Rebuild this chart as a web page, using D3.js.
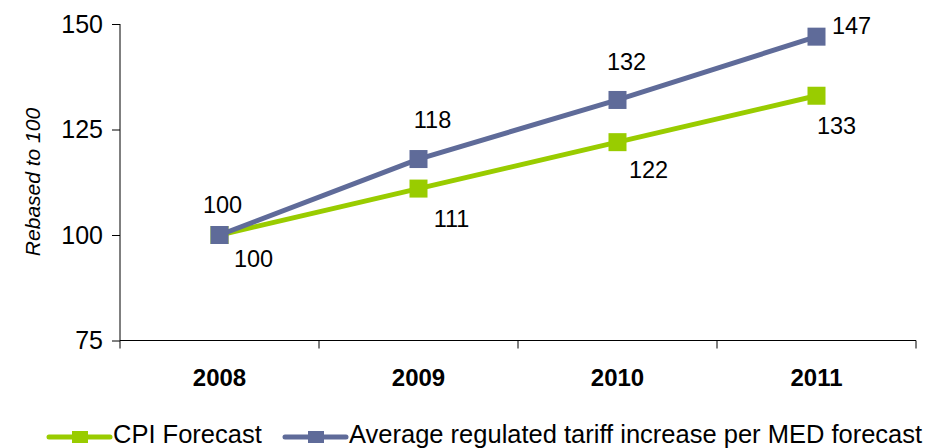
<!DOCTYPE html>
<html>
<head>
<meta charset="utf-8">
<script src="https://cdn.jsdelivr.net/npm/d3@7/dist/d3.min.js"></script>
<style>
  html, body { margin: 0; padding: 0; background: #fff; }
  svg { display: block; font-family: "Liberation Sans", Arial, sans-serif; }
</style>
</head>
<body>
<svg id="chart" width="944" height="448"></svg>
<script>
// Index values, rebased so that 2008 = 100
const years = ["2008", "2009", "2010", "2011"];
const cpiForecast = [100, 111, 122, 133];
const tariffForecast = [100, 118, 132, 147];
const yTicks = [75, 100, 125, 150];
const seriesNames = ["CPI Forecast", "Average regulated tariff increase per MED forecast"];

const colors = { cpi: "#99cc00", tariff: "#5f6b99" };

const svg = d3.select("#chart");
const plot = { left: 120, right: 916, top: 24, bottom: 340.5 };

const x = d3.scaleBand().domain(years).range([plot.left, plot.right]).paddingInner(0).paddingOuter(0);
const y = d3.scaleLinear().domain([75, 150]).range([plot.bottom, plot.top]);
const cx = d => x(d) + x.bandwidth() / 2;

// Y axis
const yAxis = svg.append("g")
  .attr("transform", `translate(${plot.left},0)`)
  .call(d3.axisLeft(y).tickValues(yTicks).tickSize(8).tickPadding(9));
yAxis.selectAll("text").attr("font-size", 25).attr("fill", "#000");
yAxis.selectAll("line, path").attr("stroke", "#000");
yAxis.select(".domain").attr("d", `M0,${plot.top}V${plot.bottom}`);

// X axis with ticks between categories
const xAxis = svg.append("g").attr("transform", `translate(0,${plot.bottom})`);
xAxis.append("line")
  .attr("x1", plot.left).attr("x2", plot.right)
  .attr("stroke", "#000");
const boundaries = years.map(d => x(d)).concat([x(years[years.length - 1]) + x.bandwidth()]);
xAxis.selectAll("line.tick").data(boundaries).join("line")
  .attr("class", "tick")
  .attr("x1", d => d).attr("x2", d => d)
  .attr("y1", 0).attr("y2", 8)
  .attr("stroke", "#000");
xAxis.selectAll("text").data(years).join("text")
  .attr("x", d => cx(d))
  .attr("y", 45)
  .attr("text-anchor", "middle")
  .attr("font-size", 24)
  .attr("font-weight", "bold")
  .text(d => d);

// Y axis title
svg.append("text")
  .attr("transform", `translate(40,182) rotate(-90)`)
  .attr("text-anchor", "middle")
  .attr("font-size", 21)
  .attr("font-style", "italic")
  .text("Rebased to 100");

const line = d3.line().x((d, i) => cx(years[i])).y(d => y(d));

function drawSeries(values, color, labelOffsets) {
  const g = svg.append("g");
  g.append("path")
    .datum(values)
    .attr("d", line)
    .attr("fill", "none")
    .attr("stroke", color)
    .attr("stroke-width", 5)
    .attr("stroke-linejoin", "round");
  const m = 18;
  g.selectAll("rect").data(values).join("rect")
    .attr("x", (d, i) => cx(years[i]) - m / 2)
    .attr("y", d => y(d) - m / 2)
    .attr("width", m).attr("height", m)
    .attr("fill", color);
  g.selectAll("text").data(values).join("text")
    .attr("x", (d, i) => cx(years[i]) + labelOffsets[i][0])
    .attr("y", (d, i) => y(d) + labelOffsets[i][1])
    .attr("text-anchor", "middle")
    .attr("dominant-baseline", "central")
    .attr("font-size", 23.5)
    .text(d => d);
}

drawSeries(cpiForecast, colors.cpi, [[34, 24], [33, 30], [31, 28], [20, 30]]);
drawSeries(tariffForecast, colors.tariff, [[3, -30], [14, -39], [9, -38], [35, -11]]);

// Legend
const legend = svg.append("g");
const legendItems = [
  { name: seriesNames[0], color: colors.cpi, x0: 49 },
  { name: seriesNames[1], color: colors.tariff, x0: 285 }
];
legendItems.forEach(item => {
  const ly = 437;
  legend.append("line")
    .attr("x1", item.x0).attr("x2", item.x0 + 61)
    .attr("y1", ly).attr("y2", ly)
    .attr("stroke", item.color).attr("stroke-width", 5)
    .attr("stroke-linecap", "round");
  legend.append("rect")
    .attr("x", item.x0 + 23).attr("y", ly - 6)
    .attr("width", 16).attr("height", 12)
    .attr("fill", item.color);
  legend.append("text")
    .attr("x", item.x0 + 64)
    .attr("y", 443)
    .attr("font-size", 25.5)
    .text(item.name);
});
</script>
</body>
</html>
